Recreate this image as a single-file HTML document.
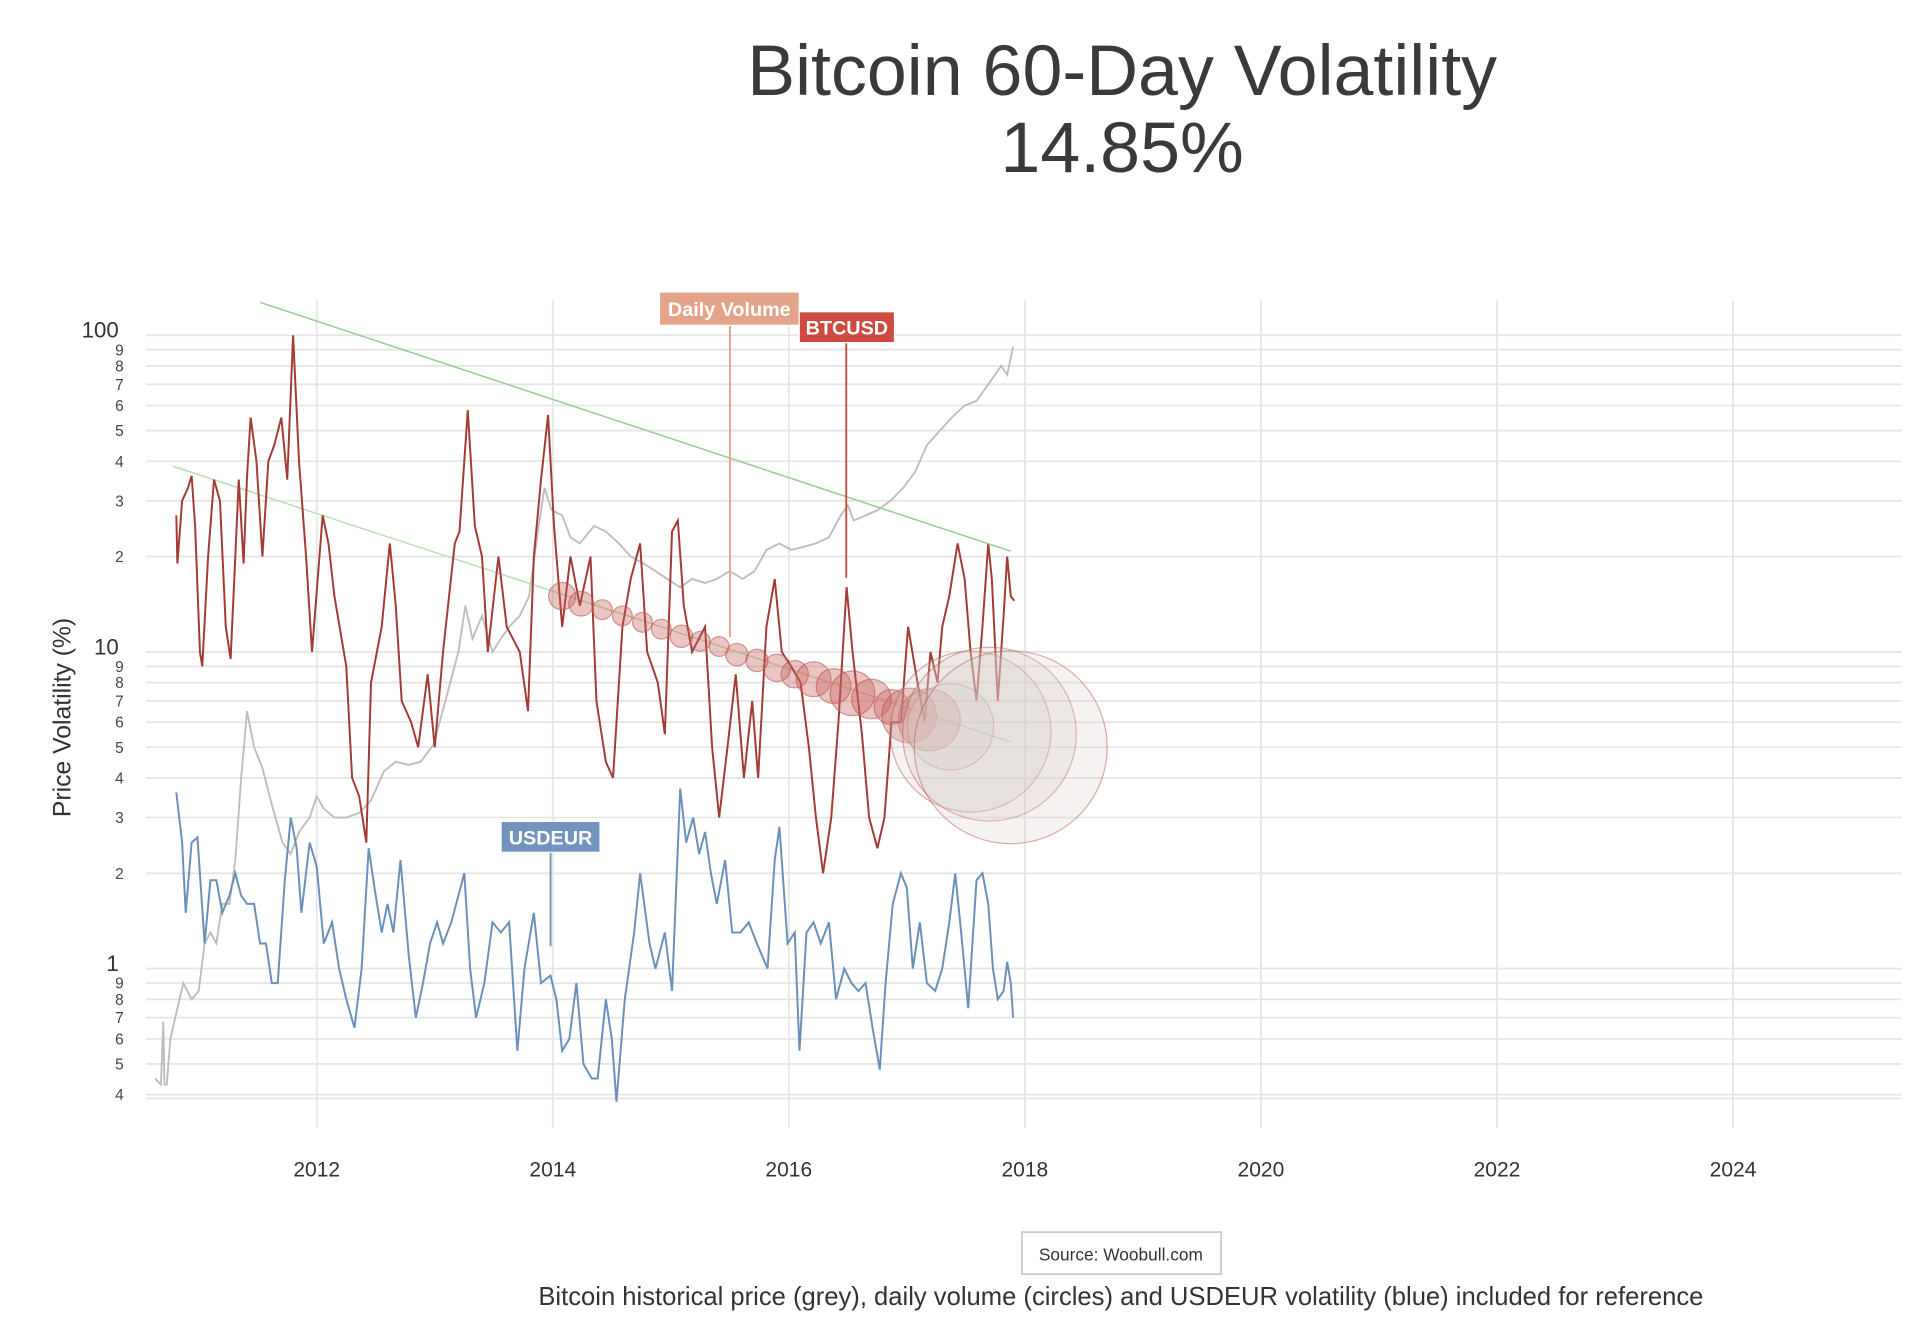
<!DOCTYPE html>
<html><head><meta charset="utf-8"><style>
html,body{margin:0;padding:0;background:#fff;}
svg{display:block;font-family:"Liberation Sans",sans-serif;}
</style></head><body>
<svg id="chart" width="1930" height="1336" viewBox="0 0 1560 1080" preserveAspectRatio="none" xmlns="http://www.w3.org/2000/svg">
<text x="907" y="77" text-anchor="middle" font-size="58" fill="#3a3a3a">Bitcoin 60-Day Volatility</text>
<text x="907" y="139" text-anchor="middle" font-size="58" fill="#3a3a3a">14.85%</text>
<g id="grid"></g>
<g id="marks"></g>
<text transform="translate(57,580) rotate(-90)" text-anchor="middle" font-size="20" fill="#333">Price Volatility (%)</text>
<rect x="826" y="996" width="161" height="34" fill="#fff" stroke="#ccc" stroke-width="1.5"/>
<text x="906" y="1019" text-anchor="middle" font-size="14" fill="#333">Source: Woobull.com</text>
<text x="906" y="1055" text-anchor="middle" font-size="20.7" fill="#333">Bitcoin historical price (grey), daily volume (circles) and USDEUR volatility (blue) included for reference</text>
</svg>
<script>
const yearTicks=[2012,2014,2016,2018,2020,2022,2024];
const btcYears=[2010.81,2010.82,2010.86,2010.91,2010.94,2010.97,2011.01,2011.03,2011.08,2011.13,2011.18,2011.23,2011.27,2011.31,2011.34,2011.38,2011.41,2011.44,2011.49,2011.54,2011.59,2011.64,2011.7,2011.75,2011.8,2011.85,2011.91,2011.96,2012.05,2012.1,2012.15,2012.25,2012.3,2012.36,2012.42,2012.46,2012.55,2012.62,2012.67,2012.72,2012.8,2012.86,2012.94,2013.0,2013.07,2013.17,2013.21,2013.28,2013.34,2013.4,2013.45,2013.54,2013.61,2013.72,2013.79,2013.84,2013.9,2013.96,2014.01,2014.08,2014.15,2014.23,2014.32,2014.37,2014.45,2014.51,2014.59,2014.66,2014.74,2014.8,2014.89,2014.95,2015.01,2015.06,2015.11,2015.18,2015.29,2015.35,2015.41,2015.48,2015.55,2015.62,2015.69,2015.74,2015.81,2015.88,2015.94,2016.02,2016.1,2016.17,2016.23,2016.29,2016.36,2016.42,2016.49,2016.54,2016.62,2016.68,2016.75,2016.81,2016.87,2016.95,2017.01,2017.09,2017.15,2017.2,2017.26,2017.3,2017.36,2017.43,2017.49,2017.54,2017.59,2017.64,2017.69,2017.72,2017.77,2017.82,2017.85,2017.88,2017.91];
const btcVol=[27,19,30,33,36,25,10,9,20,35,30,12,9.5,20,35,19,36,55,40,20,40,45,55,35,100,40,20,10,27,22,15,9,4,3.5,2.5,8,12,22,14,7,6,5,8.5,5,10,22,24,58,25,20,10,20,12,10,6.5,20,35,56,25,12,20,14,20,7,4.5,4,12,17,22,10,8,5.5,24,26,14,10,12,5,3,5,8.5,4,7,4,12,17,10,9,8,5,3,2,3,6,16,10,5.5,3,2.4,3,6,6,12,8,6,10,8,12,15,22,17,10,7,12,22,17,7,13,20,15,14.5];
const eurYears=[2010.81,2010.86,2010.89,2010.94,2010.99,2011.05,2011.1,2011.15,2011.2,2011.26,2011.31,2011.36,2011.41,2011.47,2011.52,2011.57,2011.62,2011.67,2011.73,2011.78,2011.83,2011.87,2011.94,2012.0,2012.06,2012.13,2012.19,2012.25,2012.32,2012.38,2012.44,2012.49,2012.55,2012.6,2012.65,2012.71,2012.78,2012.84,2012.9,2012.96,2013.02,2013.07,2013.14,2013.25,2013.3,2013.35,2013.42,2013.49,2013.56,2013.63,2013.7,2013.76,2013.84,2013.9,2013.98,2014.03,2014.08,2014.14,2014.2,2014.26,2014.33,2014.38,2014.45,2014.5,2014.54,2014.61,2014.69,2014.74,2014.82,2014.87,2014.95,2015.01,2015.08,2015.13,2015.19,2015.24,2015.29,2015.34,2015.39,2015.46,2015.52,2015.59,2015.66,2015.73,2015.82,2015.88,2015.92,2015.99,2016.05,2016.09,2016.15,2016.21,2016.27,2016.34,2016.4,2016.47,2016.53,2016.59,2016.65,2016.71,2016.77,2016.82,2016.88,2016.95,2017.0,2017.05,2017.11,2017.17,2017.24,2017.3,2017.36,2017.41,2017.46,2017.52,2017.59,2017.64,2017.69,2017.73,2017.77,2017.82,2017.85,2017.88,2017.9];
const eurVol=[3.6,2.5,1.5,2.5,2.6,1.2,1.9,1.9,1.5,1.7,2.0,1.7,1.6,1.6,1.2,1.2,0.9,0.9,1.9,3.0,2.4,1.5,2.5,2.1,1.2,1.4,1.0,0.8,0.65,1.0,2.4,1.8,1.3,1.6,1.3,2.2,1.1,0.7,0.9,1.2,1.4,1.2,1.4,2.0,1.0,0.7,0.9,1.4,1.3,1.4,0.55,1.0,1.5,0.9,0.95,0.8,0.55,0.6,0.9,0.5,0.45,0.45,0.8,0.6,0.38,0.8,1.3,2.0,1.2,1.0,1.3,0.85,3.7,2.5,3.0,2.3,2.7,2.0,1.6,2.2,1.3,1.3,1.4,1.2,1.0,2.2,2.8,1.2,1.3,0.55,1.3,1.4,1.2,1.4,0.8,1.0,0.9,0.85,0.9,0.65,0.48,0.9,1.6,2.0,1.8,1.0,1.4,0.9,0.85,1.0,1.4,2.0,1.3,0.75,1.9,2.0,1.6,1.0,0.8,0.85,1.05,0.9,0.7];
const priceYears=[2010.63,2010.68,2010.7,2010.71,2010.73,2010.76,2010.82,2010.87,2010.94,2011.0,2011.05,2011.1,2011.15,2011.2,2011.26,2011.31,2011.36,2011.41,2011.47,2011.54,2011.62,2011.71,2011.78,2011.85,2011.94,2012.0,2012.06,2012.15,2012.25,2012.36,2012.46,2012.57,2012.67,2012.78,2012.88,2012.99,2013.09,2013.2,2013.26,2013.32,2013.4,2013.49,2013.56,2013.63,2013.72,2013.8,2013.88,2013.93,2013.99,2014.08,2014.15,2014.23,2014.35,2014.45,2014.56,2014.66,2014.77,2014.87,2014.97,2015.08,2015.18,2015.29,2015.39,2015.5,2015.61,2015.71,2015.81,2015.92,2016.02,2016.13,2016.23,2016.34,2016.44,2016.5,2016.55,2016.65,2016.75,2016.86,2016.97,2017.07,2017.17,2017.28,2017.38,2017.49,2017.59,2017.69,2017.8,2017.85,2017.9];
const priceScaled=[0.45,0.43,0.68,0.43,0.43,0.6,0.75,0.9,0.8,0.85,1.2,1.3,1.2,1.6,1.6,2.2,4.0,6.5,5,4.3,3.3,2.5,2.3,2.7,3.0,3.5,3.2,3.0,3.0,3.1,3.4,4.2,4.5,4.4,4.5,5.1,7,10,14,11,13,10,11,12,13,15,25,33,28,27,23,22,25,24,22,20,19,18,17,16,17,16.5,17,18,17,18,21,22,21,21.5,22,23,27,29,26,27,28,30,33,37,45,50,55,60,62,70,80,75,92];
const volYears=[2014.08,2014.24,2014.42,2014.59,2014.76,2014.92,2015.09,2015.25,2015.41,2015.56,2015.73,2015.9,2016.05,2016.21,2016.38,2016.54,2016.7,2016.87,2017.02,2017.19,2017.37,2017.54,2017.7,2017.88];
const volLevel=[15,14.2,13.6,13,12.4,11.8,11.2,10.8,10.4,9.8,9.4,8.9,8.5,8.2,7.8,7.4,7.1,6.7,6.3,6.1,5.8,5.6,5.5,5.0];
const volAmount=[1.9,1.56,1,1,1,1,1.27,1,1,1.27,1.27,1.9,1.9,3.1,3.1,5.1,4,3.1,7.6,9.8,19,66,77,95];
const trendUpperYears=[2011.52,2017.88];
const trendUpperVals=[127,20.8];
const trendLowerYears=[2010.78,2017.88];
const trendLowerVals=[38.6,5.2];

const NS="http://www.w3.org/2000/svg";
const X0=256, PXY=95.4, Y1=783, PXD=256;
function xs(yr){return X0+(yr-2012)*PXY;}
function ys(v){return Y1-Math.log10(v)*PXD;}
function mk(tag,attrs,parent){const e=document.createElementNS(NS,tag);for(const k in attrs)e.setAttribute(k,attrs[k]);parent.appendChild(e);return e;}
const grid=document.getElementById('grid'), marks=document.getElementById('marks');

const majors=[100,10,1];
majors.forEach(m=>{
  const l=mk('line',{x1:118,x2:1537,y1:ys(m),y2:ys(m),stroke:'#e6e6e6','stroke-width':1.5},grid);
  
  
  const t=mk('text',{x:96,y:ys(m)+2,'text-anchor':'end','font-size':18,fill:'#333'},grid);
  
  
  t.textContent=String(m);
});
[10,1,0.1].forEach(base=>{
  const ds=base===0.1?[9,8,7,6,5,4]:[9,8,7,6,5,4,3,2];
  ds.forEach(d=>{
    const v=base*d;
    const l=mk('line',{x1:118,x2:1537,y1:ys(v),y2:ys(v),stroke:'#e6e6e6','stroke-width':1.5},grid);
    
    
    const t=mk('text',{x:100,y:ys(v)+4.5,'text-anchor':'end','font-size':12.5,fill:'#444'},grid);
    
    
    t.textContent=String(d);
  });
});
yearTicks.forEach(yr=>{
  const l=mk('line',{x1:xs(yr),x2:xs(yr),y1:243,y2:912,stroke:'#e6e6e6','stroke-width':1.5},grid);
  
  
  const t=mk('text',{x:xs(yr),y:951,'text-anchor':'middle','font-size':17,fill:'#333'},grid);
  
  
  t.textContent=String(yr);
});
mk('line',{x1:118,x2:1537,y1:888,y2:888,stroke:'#e6e6e6','stroke-width':1.5},grid);

function path(xsArr,vals){return xsArr.map((x,i)=>(i?'L':'M')+xs(x).toFixed(1)+','+ys(vals[i]).toFixed(1)).join('');}

const price=mk('path',{d:path(priceYears,priceScaled),fill:'none',stroke:'#bdbdbd','stroke-width':1.5},marks);



const tl=mk('path',{d:path(trendLowerYears,trendLowerVals),fill:'none',stroke:'#b8e0b0','stroke-width':1.2},marks);



const eur=mk('path',{d:path(eurYears,eurVol),fill:'none',stroke:'#6b8fbb','stroke-width':1.6},marks);



const btc=mk('path',{d:path(btcYears,btcVol),fill:'none',stroke:'#a23b33','stroke-width':1.6},marks);



volYears.forEach((yr,i)=>{
  const r=8*Math.sqrt(volAmount[i]);
  const big=r>30;
  const c=mk('circle',{cx:xs(yr),cy:ys(volLevel[i]),r:r,fill:big?'rgba(215,205,200,0.25)':'rgba(200,95,90,0.36)',stroke:big?'rgba(180,80,75,0.45)':'rgba(180,80,75,0.55)','stroke-width':1},marks);
  
  
});

const tu=mk('path',{d:path(trendUpperYears,trendUpperVals),fill:'none',stroke:'#8fd18a','stroke-width':1.2},marks);



function label(name,x,y,w,h,fill,text,lx,ly2){
  const ln=mk('line',{x1:lx,x2:lx,y1:y+h,y2:ly2,stroke:fill,'stroke-width':1.5},marks);
  
  
  const r=mk('rect',{x:x,y:y,width:w,height:h,fill:fill,stroke:'#fff','stroke-width':1},marks);
  
  
  const t=mk('text',{x:x+w/2,y:y+h/2+6,'text-anchor':'middle','font-size':16,'font-weight':'bold',fill:'#fff'},marks);
  
  
  t.textContent=text;
}
label('daily-volume',533,236,113,27,'#e3a48a','Daily Volume',590,515);
label('btcusd',646,252,77,25,'#cc4a3f','BTCUSD',684,467);
label('usdeur',405,664,80,25,'#7293bd','USDEUR',445,765);
</script>
</body></html>
